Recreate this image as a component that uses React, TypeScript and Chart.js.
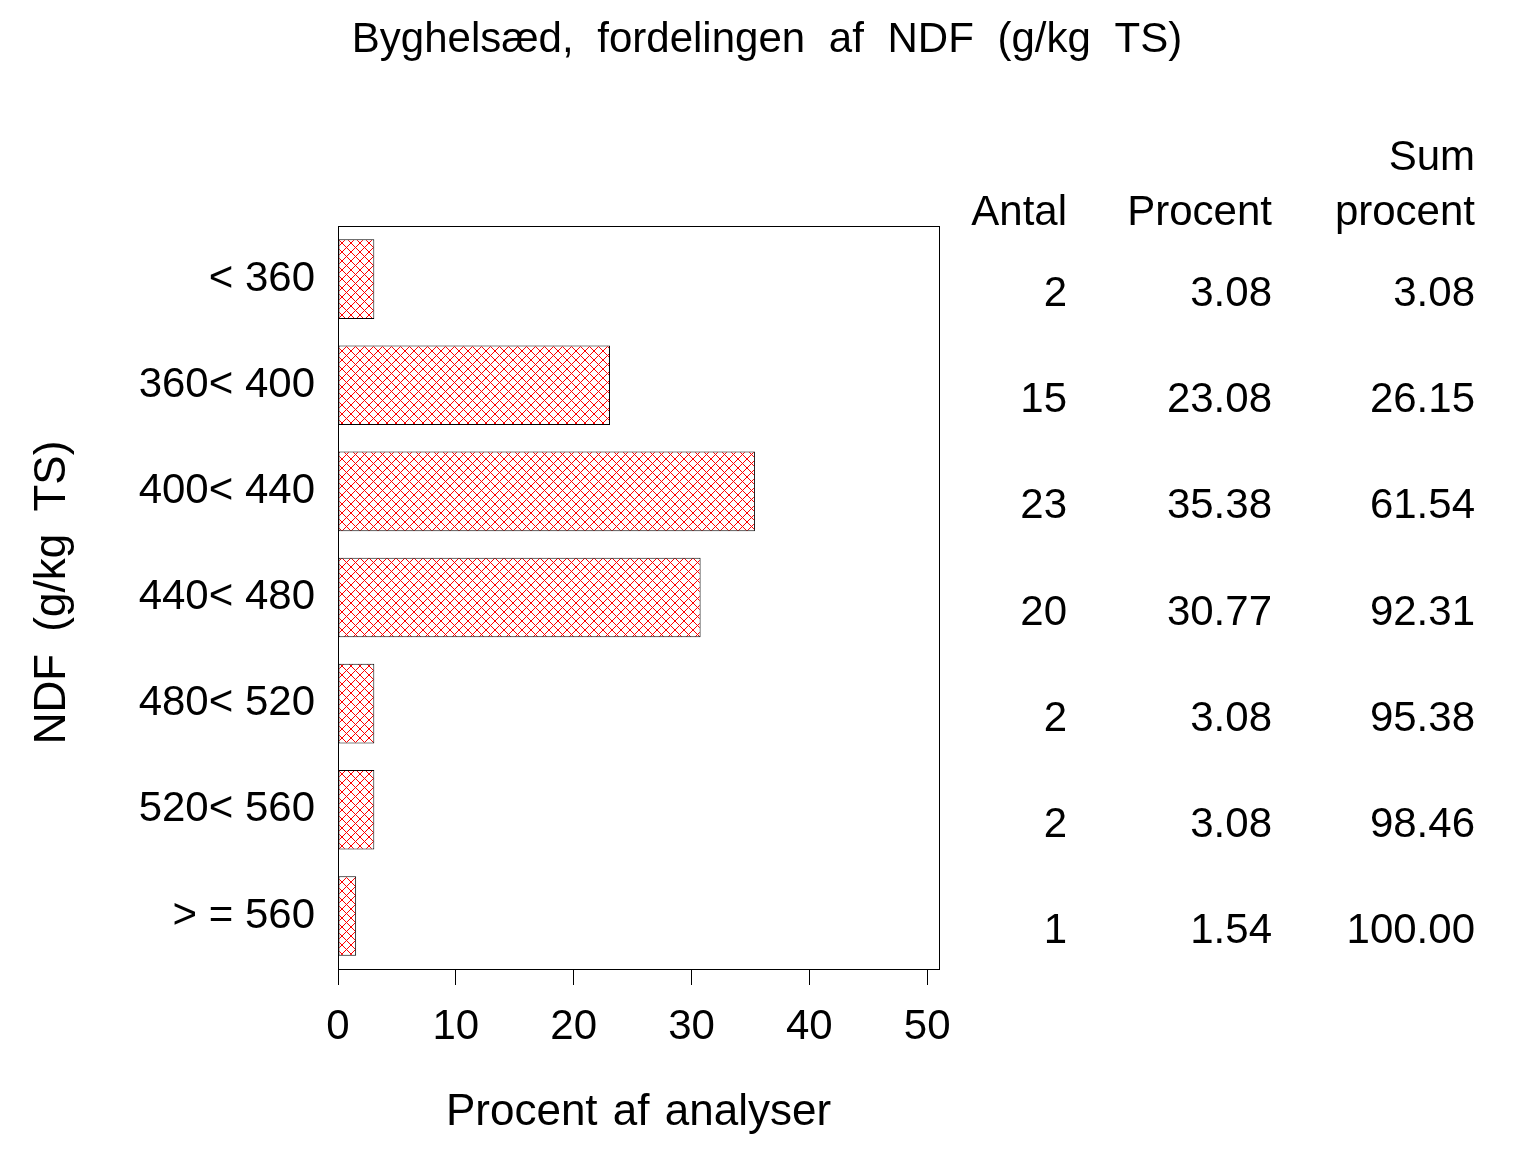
import { useEffect, useRef } from "react";
import { Chart, registerables } from "chart.js";

Chart.register(...registerables);

const FONT = "'Liberation Sans', Arial, Helvetica, sans-serif";

const titleText = "Byghelsæd, fordelingen af NDF (g/kg TS)";
const xTitle = "Procent af analyser";
const yTitle = "NDF (g/kg TS)";

const categories = ["< 360", "360< 400", "400< 440", "440< 480", "480< 520", "520< 560", "> = 560"];
const percent = [3.08, 23.08, 35.38, 30.77, 3.08, 3.08, 1.54];
const counts = [2, 15, 23, 20, 2, 2, 1];
const cumPercent = [3.08, 26.15, 61.54, 92.31, 95.38, 98.46, 100.0];
const xTicks = [0, 10, 20, 30, 40, 50];
const xMax = 51;

const tableHeaders: string[][] = [["Antal"], ["Procent"], ["Sum", "procent"]];
const tableColumns: string[][] = [
  counts.map((v) => String(v)),
  percent.map((v) => v.toFixed(2)),
  cumPercent.map((v) => v.toFixed(2)),
];
const columnRight = [1067, 1272, 1475];

export default function App() {
  const ref = useRef<HTMLCanvasElement>(null);

  useEffect(() => {
    const canvas = ref.current!;
    const tile = document.createElement("canvas");
    tile.width = 9;
    tile.height = 9;
    const tctx = tile.getContext("2d")!;
    tctx.fillStyle = "#ffffff";
    tctx.fillRect(0, 0, 9, 9);
    tctx.fillStyle = "#ff0000";
    for (let i = 0; i < 9; i++) {
      tctx.fillRect(i, i, 1, 1);
      tctx.fillRect(8 - i, i, 1, 1);
    }
    const pattern = canvas.getContext("2d")!.createPattern(tile, "repeat")!;

    const textPlugin = {
      id: "texts",
      afterDraw(chart: any) {
        const { ctx, chartArea, scales } = chart;
        const ys = scales.y;
        ctx.save();
        // frame
        ctx.strokeStyle = "#000";
        ctx.lineWidth = 1;
        ctx.strokeRect(
          Math.round(chartArea.left) + 0.5,
          Math.round(chartArea.top) + 0.5,
          Math.round(chartArea.right - chartArea.left),
          Math.round(chartArea.bottom - chartArea.top)
        );
        ctx.fillStyle = "#000";
        ctx.textBaseline = "alphabetic";
        // title
        ctx.font = `42px ${FONT}`;
        (ctx as any).wordSpacing = "12px";
        ctx.textAlign = "center";
        ctx.fillText(titleText, 767, 52);
        // x title
        ctx.font = `44px ${FONT}`;
        (ctx as any).wordSpacing = "3px";
        ctx.fillText(xTitle, (chartArea.left + chartArea.right) / 2, 1125);
        // y title
        (ctx as any).wordSpacing = "10px";
        ctx.save();
        ctx.translate(65, (chartArea.top + chartArea.bottom) / 2 - 5);
        ctx.rotate(-Math.PI / 2);
        ctx.fillText(yTitle, 0, 0);
        ctx.restore();
        // table
        (ctx as any).wordSpacing = "0px";
        ctx.textAlign = "right";
        ctx.font = `42px ${FONT}`;
        tableHeaders.forEach((lines, c) => {
          lines.forEach((line, k) => {
            const baseline = 225 - (lines.length - 1 - k) * 55;
            ctx.fillText(line, columnRight[c], baseline);
          });
        });
        tableColumns.forEach((col, c) => {
          col.forEach((txt, i) => {
            const yc = ys.getPixelForValue(i);
            ctx.fillText(txt, columnRight[c], yc + 27);
          });
        });
        ctx.restore();
      },
    };

    const chart = new Chart(canvas, {
      type: "bar",
      data: {
        labels: categories,
        datasets: [
          {
            data: percent,
            backgroundColor: pattern as any,
            borderColor: "#000",
            borderWidth: 1,
            borderSkipped: false,
            barPercentage: 0.75,
            categoryPercentage: 1,
          },
        ],
      },
      options: {
        indexAxis: "y",
        responsive: false,
        animation: false,
        devicePixelRatio: 1,
        layout: { padding: { top: 226, right: 597, left: 0, bottom: 0 } },
        plugins: {
          legend: { display: false },
          title: { display: false },
          tooltip: { enabled: false },
        },
        scales: {
          x: {
            type: "linear",
            min: 0,
            max: xMax,
            afterBuildTicks: (s: any) => {
              s.ticks = xTicks.map((v) => ({ value: v }));
            },
            afterFit: (s: any) => {
              s.height = 183;
            },
            grid: {
              display: true,
              drawOnChartArea: false,
              drawTicks: true,
              tickLength: 16,
              color: "#000",
              lineWidth: 1,
            },
            border: { display: true, color: "#000", width: 1 },
            ticks: {
              color: "#000",
              font: { family: FONT, size: 42 },
              padding: 17,
              maxRotation: 0,
              autoSkip: false,
            },
          },
          y: {
            type: "category",
            afterFit: (s: any) => {
              s.width = 338;
            },
            grid: { display: false, drawTicks: false },
            border: { display: true, color: "#000", width: 1 },
            ticks: {
              color: "#000",
              font: { family: FONT, size: 42 },
              padding: 23,
              autoSkip: false,
            },
          },
        },
      },
      plugins: [textPlugin],
    });

    return () => chart.destroy();
  }, []);

  return (
    <div style={{ position: "absolute", left: 0, top: 0, width: 1536, height: 1152, background: "#fff" }}>
      <canvas ref={ref} width={1536} height={1152} style={{ display: "block" }} />
    </div>
  );
}
